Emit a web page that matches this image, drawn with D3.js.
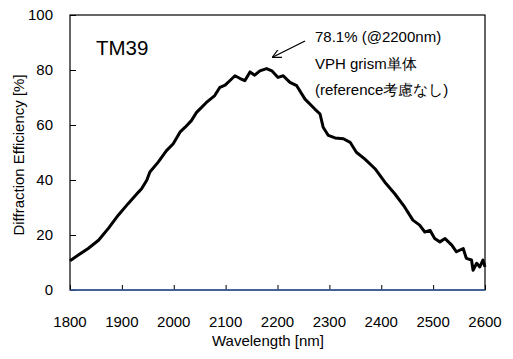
<!DOCTYPE html>
<html><head><meta charset="utf-8">
<script src="https://cdn.jsdelivr.net/npm/d3@7/dist/d3.min.js"></script>
<style>
body{margin:0;background:#fff;}
text{font-family:"Liberation Sans",Arial,sans-serif;fill:#000;}
</style></head>
<body><svg id="c" width="513" height="359"></svg>
<script>
const wavelength = [1800,1816,1835,1855,1874,1893,1912,1932,1938,1948,1954,1970,1986,1999,2012,2022,2034,2044,2063,2079,2089,2099,2108,2118,2128,2137,2147,2156,2166,2179,2189,2201,2211,2224,2237,2253,2272,2282,2288,2298,2311,2327,2340,2352,2368,2388,2407,2426,2445,2461,2474,2484,2494,2503,2513,2523,2536,2545,2558,2564,2574,2577,2584,2590,2596,2600];
const efficiency = [10.6,12.7,15.1,18.1,22.4,27.2,31.4,35.6,36.8,39.9,42.9,46.5,50.7,53.2,57.4,59.2,61.6,64.6,68.2,70.7,73.7,74.5,76.1,77.9,76.9,76.1,79.3,78.1,79.7,80.5,79.7,77.3,77.9,75.5,74.3,69.4,65.8,64.0,59.2,56.2,55.3,55.0,53.7,50.1,47.7,44.1,39.2,35.0,30.2,25.4,23.6,21.1,21.7,18.7,17.5,18.7,16.3,13.9,15.1,11.5,10.9,7.2,9.7,8.4,10.9,8.4];
const xTicks = [1800,1900,2000,2100,2200,2300,2400,2500,2600];
const yTicks = [0,20,40,60,80,100];
const annotLines = ["78.1% (@2200nm)","VPH grism単体","(reference考慮なし)"];
const sampleLabel = "TM39";

const svg = d3.select("#c");
const L=70, R=485, T=15, B=290;
const x = d3.scaleLinear().domain([1800,2600]).range([L,R]);
const y = d3.scaleLinear().domain([0,100]).range([B,T]);

// frame
svg.append("rect").attr("x",L).attr("y",T).attr("width",R-L).attr("height",B-T)
  .attr("fill","none").attr("stroke","#000").attr("stroke-width",1.2);

// y axis ticks (inward)
const ya = svg.append("g").attr("transform",`translate(${L},0)`)
  .call(d3.axisRight(y).tickValues(yTicks).tickSize(6).tickFormat(""));
ya.select(".domain").remove();
ya.selectAll("line").attr("stroke","#000");
svg.append("g").selectAll("text").data(yTicks).join("text")
  .attr("x",53).attr("y",d=>y(d)+5).attr("text-anchor","end")
  .attr("font-size",15).text(d=>d);

// x axis ticks (inward)
const xa = svg.append("g").attr("transform",`translate(0,${B})`)
  .call(d3.axisTop(x).tickValues(xTicks).tickSize(5).tickFormat(""));
xa.select(".domain").remove();
xa.selectAll("line").attr("stroke","#000");
svg.append("g").selectAll("text").data(xTicks).join("text")
  .attr("x",d=>x(d)).attr("y",327).attr("text-anchor","middle")
  .attr("font-size",15).text(d=>d);
svg.append("line").attr("x1",L).attr("x2",R).attr("y1",B).attr("y2",B)
  .attr("stroke","#3a64a8").attr("stroke-width",1.5);

// titles
svg.append("text").attr("x",268).attr("y",346).attr("text-anchor","middle")
  .attr("font-size",15).text("Wavelength [nm]");
svg.append("text").attr("transform","translate(24,155) rotate(-90)")
  .attr("text-anchor","middle").attr("font-size",15).text("Diffraction Efficiency [%]");

// data line
const pts = wavelength.map((w,i)=>[w,efficiency[i]]);
svg.append("path").datum(pts)
  .attr("d",d3.line().x(d=>x(d[0])).y(d=>y(d[1])))
  .attr("fill","none").attr("stroke","#000").attr("stroke-width",3).attr("stroke-linejoin","round");

// labels
svg.append("text").attr("x",96).attr("y",55).attr("font-size",20.5).text(sampleLabel);
svg.append("g").selectAll("text").data(annotLines).join("text")
  .attr("x",315).attr("y",(d,i)=>42+i*26.5).attr("font-size",15).text(d=>d);

// arrow
svg.append("defs").append("marker").attr("id","ah").attr("viewBox","0 0 10 10")
  .attr("refX",9).attr("refY",5).attr("markerWidth",9).attr("markerHeight",9)
  .attr("orient","auto").attr("markerUnits","userSpaceOnUse")
  .append("path").attr("d","M0,0 L10,5 L0,10").attr("fill","none").attr("stroke","#000").attr("stroke-width",1.3);
svg.append("line").attr("x1",305).attr("y1",41).attr("x2",273).attr("y2",57)
  .attr("stroke","#000").attr("stroke-width",1.3).attr("marker-end","url(#ah)");
</script></body></html>
